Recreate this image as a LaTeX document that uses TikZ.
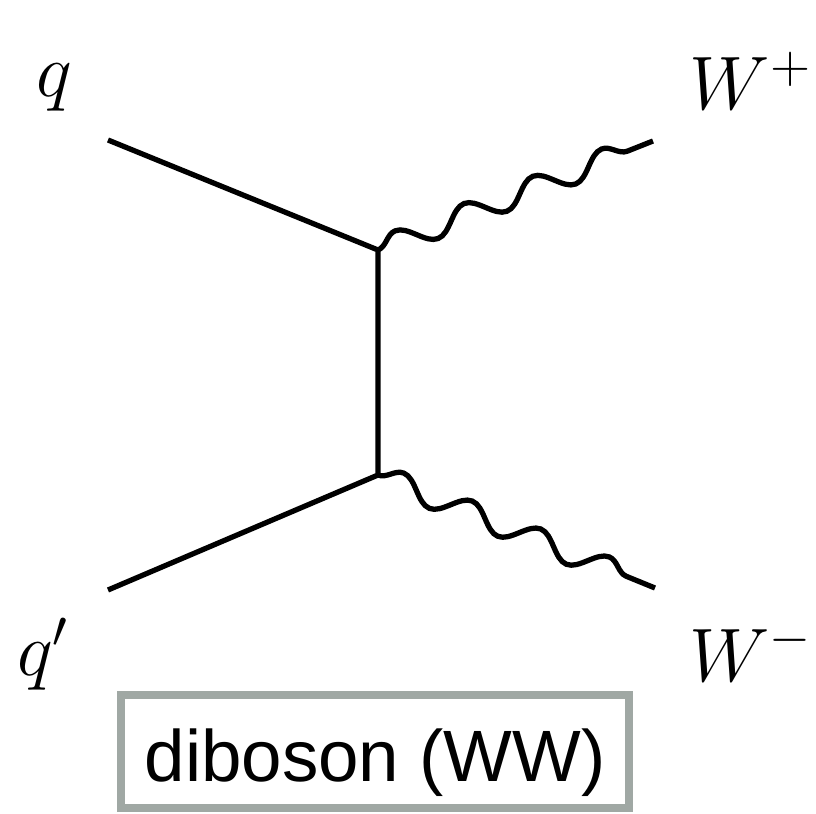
\documentclass[tikz,border=0pt]{standalone}
\usepackage{fontspec}
\newfontfamily\boxfont{Liberation Sans}
\usepackage{tikz}
\usetikzlibrary{decorations.pathmorphing,positioning}
\definecolor{framegray}{RGB}{160,168,164}

\begin{document}
\begin{tikzpicture}[
    fermion/.style={line width=1.5pt},
    boson/.style={line width=1.5pt, decorate,
        decoration={snake, amplitude=1.15mm, segment length=7.4mm}},
    particle/.style={font=\huge, scale=1.04, transform shape, inner sep=0pt},
    tag/.style={draw=framegray, line width=0.8mm, fill=white,
        minimum width=5.08cm, minimum height=1.13cm, inner sep=0pt,
        text height=8.1mm, text depth=2mm,
        font=\boxfont\fontsize{20.7}{24}\selectfont}
]
    \useasboundingbox (0,0) rectangle (8.16,8.13);

    % vertices and external legs
    \coordinate (vtop) at (3.78, 5.63);
    \coordinate (vbot) at (3.78, 3.38);
    \coordinate (qin)  at (1.08, 6.73);
    \coordinate (qpin) at (1.08, 2.23);
    \coordinate (wpout) at (6.53, 6.72);
    \coordinate (wmout) at (6.55, 2.25);

    \draw[fermion] (qin) -- (vtop) -- (vbot) -- (qpin);
    \draw[boson] (vtop) -- (wpout);
    \draw[boson] (vbot) -- (wmout);

    % particle labels
    \node[particle] (q)  at (0.54, 7.25) {$q$};
    \node[particle] (qp) at (0.43, 1.59) {$q'$};
    \node[particle] (wp) at (7.51, 7.32) {$W^+$};
    \node[particle] (wm) at (7.51, 1.61) {$W^-$};

    \node[tag] (proc) at (3.75, 0.615) {diboson (WW)};
\end{tikzpicture}
\end{document}
